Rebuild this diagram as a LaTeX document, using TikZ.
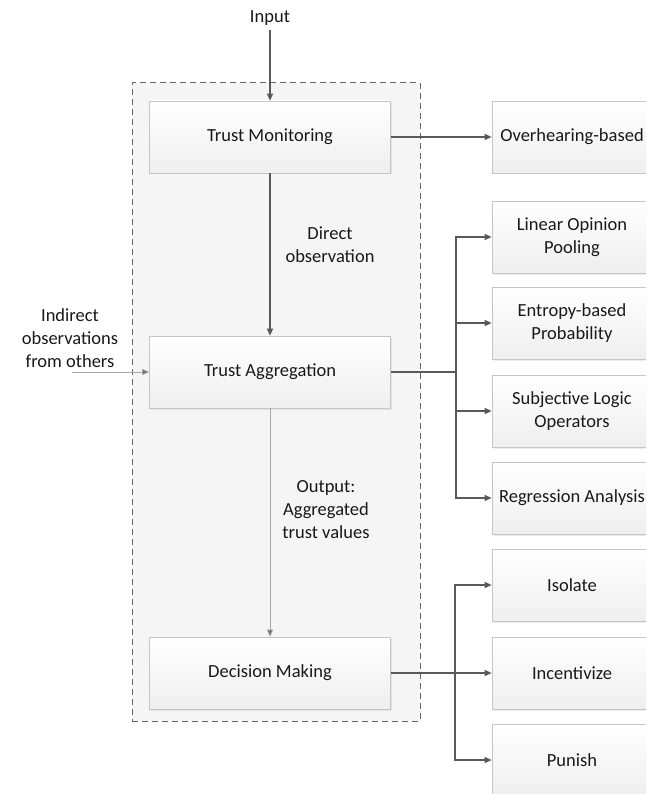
\documentclass[tikz,border=0pt]{standalone}
\usepackage{fontspec}
\setmainfont{Carlito}
\usetikzlibrary{arrows.meta,shadows,positioning}
\begin{document}
\begin{tikzpicture}[x=1pt,y=-1pt,
  box/.style={draw=gray!45, line width=0.7pt, top color=white, bottom color=gray!13,
    minimum width=241, minimum height=72, font=\fontsize{18.5}{22.5}\selectfont,
    align=center, text=black!90, drop shadow={shadow xshift=1.5pt, shadow yshift=-1.5pt, opacity=0.15, fill=gray}},
  rbox/.style={box, minimum width=160},
  lbl/.style={font=\fontsize{18.5}{23}\selectfont, align=center, text=black!90},
  arr/.style={draw=black!65, line width=1.1pt, -{Triangle[length=7pt,width=6pt]}},
  thin/.style={draw=black!35, line width=0.6pt, -{Triangle[length=7pt,width=6pt,fill=black!55]}},
  cont/.style={draw=black!60, dashed, dash pattern=on 6pt off 4pt, line width=1pt, fill=gray!8}
]
\useasboundingbox (0,0) rectangle (646,794);
\clip (0,0) rectangle (646,794);
\node[cont, minimum width=288, minimum height=638, inner sep=0] (cont) at (276,402) {};
\node[box] (tm) at (270,137) {Trust Monitoring};
\node[box] (ta) at (270,372) {Trust Aggregation};
\node[box] (dm) at (270,673) {Decision Making};
\node[rbox] (ov) at (572,137) {Overhearing-based};
\node[rbox] (lop) at (572,237) {Linear Opinion\\Pooling};
\node[rbox] (ent) at (572,323) {Entropy-based\\Probability};
\node[rbox] (slo) at (572,411) {Subjective Logic\\Operators};
\node[rbox] (reg) at (572,498) {Regression Analysis};
\node[rbox] (iso) at (572,585) {Isolate};
\node[rbox] (inc) at (572,673) {Incentivize};
\node[rbox] (pun) at (572,760) {Punish};
\node[lbl] (input) at (270,18) {Input};
\node[lbl] (dobs) at (330,245) {Direct\\observation};
\node[lbl] (iobs) at (70,338) {Indirect\\observations\\from others};
\node[lbl] (out) at (326,510) {Output:\\Aggregated\\trust values};
\coordinate (inS) at (270,30);
\coordinate (iobsE) at (72,372);
\coordinate (brA) at (456,372);
\coordinate (brD) at (455,673);
\draw[arr] (inS) -- (tm.north);
\draw[arr] (tm.east) -- (ov.west);
\draw[arr] (tm.south) -- (ta.north);
\draw[thin] (iobsE) -- (ta.west);
\draw[thin] (ta.south) -- (dm.north);
\draw[arr] (ta.east) -- (brA) |- (lop.west);
\draw[arr] (brA) |- (ent.west);
\draw[arr] (brA) |- (slo.west);
\draw[arr] (brA) |- (reg.west);
\draw[arr] (dm.east) -- (inc.west);
\draw[arr] (brD) |- (iso.west);
\draw[arr] (brD) |- (pun.west);
\end{tikzpicture}
\end{document}
